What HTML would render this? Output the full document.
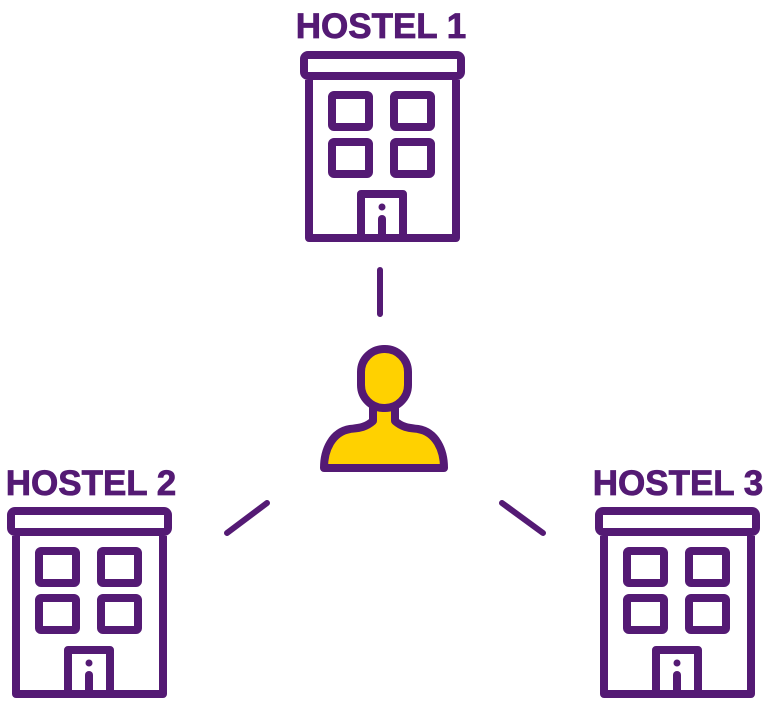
<!DOCTYPE html>
<html><head><meta charset="utf-8"><style>
html,body{margin:0;padding:0;background:#fff;}
svg{display:block;}
text{font-family:"Liberation Sans",sans-serif;font-weight:bold;fill:#541a74;}
</style></head><body>
<svg width="781" height="718" viewBox="0 0 781 718" xmlns="http://www.w3.org/2000/svg">
<defs>
<g id="b" fill="none" stroke="#541a74" stroke-width="8" stroke-linejoin="round">
<rect x="304" y="55" width="157" height="21" rx="4"/>
<path d="M309 80 V238 H456 V80"/>
<rect x="332" y="95" width="37" height="32" rx="2"/>
<rect x="394" y="95" width="37" height="32" rx="2"/>
<rect x="332" y="142" width="37" height="32" rx="2"/>
<rect x="394" y="142" width="37" height="32" rx="2"/>
<path d="M361 238 V194 H403 V238"/>
<circle cx="382" cy="207" r="3.5" fill="#541a74" stroke="none"/>
<path d="M382 219 V234" stroke-linecap="round"/>
</g>
</defs>
<text x="381" y="38" font-size="35" text-anchor="middle" stroke="#541a74" stroke-width="0.8">HOSTEL 1</text>
<text x="91" y="495" font-size="35" text-anchor="middle" stroke="#541a74" stroke-width="0.8">HOSTEL 2</text>
<text x="678" y="495" font-size="35" text-anchor="middle" stroke="#541a74" stroke-width="0.8">HOSTEL 3</text>
<use href="#b"/>
<use href="#b" transform="translate(-293,456)"/>
<use href="#b" transform="translate(295,456)"/>
<g stroke="#541a74" stroke-width="6" stroke-linecap="round">
<line x1="380" y1="270" x2="380" y2="314"/>
<line x1="227" y1="533" x2="267" y2="503"/>
<line x1="502" y1="503" x2="543" y2="533"/>
</g>
<g fill="#ffd100" stroke="#541a74" stroke-width="8" stroke-linejoin="round">
<path d="M373 405 V421 C365 428 358 428 350 429 C332 432 324 450 324 468 H444 C444 450 436 432 418 429 C410 428 403 428 395 421 V405 Z"/>
<rect x="361" y="349" width="47" height="59" rx="23"/>
</g>
</svg>
</body></html>
